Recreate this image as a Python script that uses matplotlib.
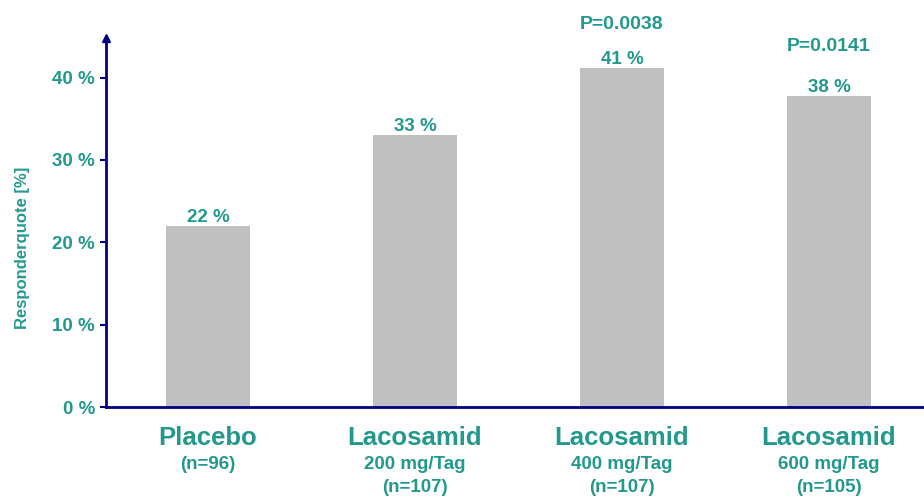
import matplotlib.pyplot as plt
from matplotlib.transforms import blended_transform_factory

plt.rcParams["font.family"] = ["Liberation Sans", "DejaVu Sans"]

TEAL = "#23998e"
NAVY = "#000080"
GRAY = "#c0c0c0"

# data
groups = ["Placebo", "Lacosamid", "Lacosamid", "Lacosamid"]
subtitles = ["(n=96)", "200 mg/Tag\n(n=107)", "400 mg/Tag\n(n=107)", "600 mg/Tag\n(n=105)"]
responder = [22.0, 33.0, 41.2, 37.8]
value_labels = ["22 %", "33 %", "41 %", "38 %"]
p_values = [None, None, "P=0.0038", "P=0.0141"]
yticks = [0, 10, 20, 30, 40]

fig = plt.figure(figsize=(9.24, 4.98), dpi=100)
ax = fig.add_axes([106 / 924, 91 / 498, 1 - 106 / 924, (407 - 38) / 498])

x = list(range(len(responder)))
ax.bar(x, responder, width=0.41, color=GRAY, zorder=2)

ax.set_xlim(-0.493, 3.459)
ax.set_ylim(0, 44.8)

for s in ["top", "right"]:
    ax.spines[s].set_visible(False)
for s in ["left", "bottom"]:
    ax.spines[s].set_color(NAVY)
    ax.spines[s].set_linewidth(2)

# arrow head on the y axis
ax.plot([0], [1], marker="^", color=NAVY, markersize=6,
        transform=ax.transAxes, clip_on=False, zorder=3)

ax.set_yticks(yticks)
ax.set_yticklabels([f"{t} %" for t in yticks])
ax.tick_params(axis="y", colors=NAVY, labelcolor=TEAL, length=4, width=1.5,
               labelsize=13.5, pad=4)
for lbl in ax.get_yticklabels():
    lbl.set_fontweight("bold")
ax.set_xticks([])
ax.set_ylabel("Responderquote [%]", color=TEAL, fontsize=12, fontweight="bold",
              labelpad=14)
ax.yaxis.set_label_coords(-0.093, 0.43)

for xi, v, lab, p in zip(x, responder, value_labels, p_values):
    ax.annotate(lab, (xi, v), xytext=(0, 6), textcoords="offset points",
                ha="center", va="center", color=TEAL, fontsize=13.5,
                fontweight="bold")
    if p:
        off = 31 if v > 40 else 35.5
        ax.annotate(p, (xi, v), xytext=(0, off), textcoords="offset points",
                    ha="center", va="center", color=TEAL, fontsize=14,
                    fontweight="bold", annotation_clip=False)

trans = blended_transform_factory(ax.transData, ax.transAxes)
for xi, g, sub in zip(x, groups, subtitles):
    ax.annotate(g, (xi, 0), xycoords=trans, xytext=(0, -22),
                textcoords="offset points", ha="center", va="center",
                color=TEAL, fontsize=18.5, fontweight="bold")
    ax.annotate(sub, (xi, 0), xycoords=trans, xytext=(0, -35.5),
                textcoords="offset points", ha="center", va="top",
                color=TEAL, fontsize=13.5, fontweight="bold",
                linespacing=1.45)

fig.savefig("out.png", dpi=100)
